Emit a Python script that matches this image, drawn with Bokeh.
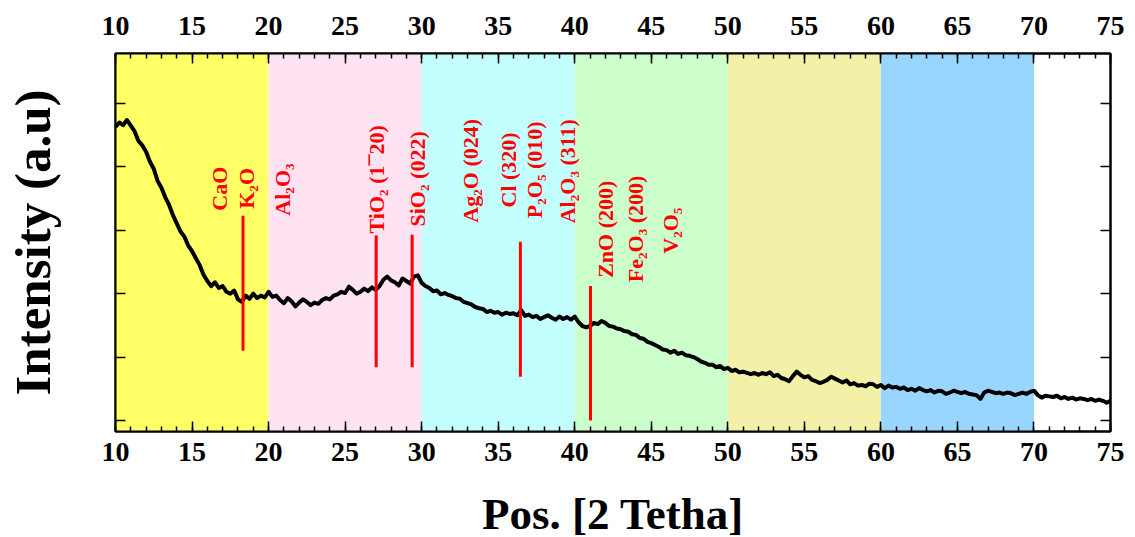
import numpy as np
from bokeh.plotting import figure
from bokeh.models import Range1d, LinearAxis, FixedTicker, BoxAnnotation, CustomJSTickFormatter
from bokeh.embed import file_html
from bokeh.resources import INLINE
from bokeh.core.properties import value

# XRD intensity (a.u.) sampled every 0.25 deg from 10 to 75 (2 theta)
intensity = [
    563, 570, 566, 574, 565, 556, 541, 534, 524, 508, 497, 478, 467, 452, 440, 424,
    411, 398, 390, 376, 367, 356, 345, 330, 320, 312, 318, 309, 312, 303, 300, 305,
    291, 287, 297, 292, 300, 293, 297, 294, 303, 295, 297, 290, 285, 293, 288, 280,
    286, 291, 287, 282, 286, 284, 290, 293, 291, 297, 299, 303, 301, 311, 306, 300,
    303, 308, 304, 310, 306, 312, 322, 327, 321, 318, 313, 324, 320, 316, 327, 329,
    317, 312, 309, 304, 305, 299, 301, 298, 296, 293, 292, 287, 285, 283, 279, 277,
    276, 271, 273, 270, 271, 267, 270, 268, 269, 266, 274, 265, 267, 263, 265, 260,
    263, 266, 262, 259, 264, 260, 263, 259, 264, 255, 249, 247, 249, 254, 252, 257,
    254, 249, 248, 245, 244, 241, 240, 236, 235, 230, 229, 224, 222, 219, 216, 212,
    211, 207, 210, 205, 207, 203, 202, 200, 197, 193, 191, 188, 188, 184, 186, 181,
    183, 178, 180, 176, 177, 175, 173, 175, 172, 175, 173, 176, 170, 172, 167, 165,
    162, 170, 177, 172, 168, 170, 164, 162, 159, 161, 164, 169, 166, 163, 160, 163,
    157, 159, 155, 156, 154, 158, 157, 153, 156, 151, 155, 152, 153, 150, 152, 148,
    150, 147, 151, 148, 146, 148, 144, 147, 146, 142, 144, 147, 145, 143, 145, 142,
    141, 140, 134, 144, 147, 145, 143, 144, 142, 144, 143, 140, 142, 144, 142, 145,
    147, 140, 136, 139, 138, 137, 139, 135, 137, 134, 136, 133, 135, 134, 132, 134,
    131, 133, 131, 128, 131,
]
two_theta = np.linspace(10, 75, len(intensity))

# coloured 2-theta regions
band_left = [10, 20, 30, 40, 50, 60]
band_right = [20, 30, 40, 50, 60, 70]
band_colors = ["#FFFF66", "#FFE3F3", "#C4FFFF", "#CCFFCC", "#F3F0A8", "#99D6FF"]

# red peak markers
marker_pos = [18.33, 27.03, 29.38, 36.45, 41.03]
marker_low = [210, 184, 184, 169, 100]
marker_high = [423, 392, 393, 382, 312]

# phase labels
label_text = ["CaO", "K\u2082O", "Al\u2082O\u2083", "TiO\u2082 (1\u00af20)", "SiO\u2082 (022)",
              "Ag\u2082O (024)", "Cl (320)", "P\u2082O\u2085 (010)", "Al\u2082O\u2083 (311)",
              "ZnO (200)", "Fe\u2082O\u2083 (200)", "V\u2082O\u2085"]
label_x = [16.77, 18.56, 20.91, 27.05, 29.73, 33.18, 35.68, 37.38, 39.53, 42.03, 43.98, 46.28]
label_y = [431, 434, 423, 395, 406, 412, 436, 419, 411, 325, 318, 363]

x_major = list(range(10, 76, 5))
x_minor = list(range(10, 76))
y_major = [100, 200, 300, 400, 500, 600]

x_title = "Pos. [2 Tetha]"
y_title = "Intensity (a.u)"

FONT = "Liberation Serif"

p = figure(frame_width=995, frame_height=378,
           x_range=Range1d(10, 75), y_range=Range1d(82.6, 678.9),
           output_backend="svg", toolbar_location=None,
           min_border_left=115, min_border_right=25, min_border_top=53, min_border_bottom=106,
           background_fill_color="white", border_fill_color="white")
p.grid.visible = False
p.outline_line_color = "black"
p.outline_line_width = 2

for l, r, c in zip(band_left, band_right, band_colors):
    p.add_layout(BoxAnnotation(left=l, right=r, fill_color=c, fill_alpha=1.0,
                               line_color=None, level="underlay"))

p.line(two_theta, intensity, line_color="black", line_width=4, line_join="round")
p.segment(x0=marker_pos, y0=marker_low, x1=marker_pos, y1=marker_high,
          line_color="red", line_width=3)
p.text(x=label_x, y=label_y, text=label_text, angle=np.pi / 2,
       text_color="red", text_font=value(FONT), text_font_style="bold",
       text_font_size="22px", text_align="left", text_baseline="alphabetic")

xt = FixedTicker(ticks=x_major, minor_ticks=x_minor)
yt = FixedTicker(ticks=y_major, minor_ticks=[])
blank = CustomJSTickFormatter(code="return ''")


def style_x(ax):
    ax.ticker = xt
    ax.major_tick_in = 10
    ax.major_tick_out = 0
    ax.minor_tick_in = 5
    ax.minor_tick_out = 0
    ax.axis_line_width = 2
    ax.major_tick_line_width = 1.5
    ax.minor_tick_line_width = 1.5
    ax.major_label_text_font = FONT
    ax.major_label_text_font_style = "bold"
    ax.major_label_text_font_size = "28px"
    ax.major_label_text_color = "black"


def style_y(ax):
    ax.ticker = yt
    ax.formatter = blank
    ax.major_tick_in = 10
    ax.major_tick_out = 0
    ax.minor_tick_in = 0
    ax.minor_tick_out = 0
    ax.axis_line_width = 2
    ax.major_tick_line_width = 1.5
    ax.major_label_standoff = 0


bx = p.xaxis[0]
style_x(bx)
bx.major_label_standoff = 11
bx.axis_label = x_title
bx.axis_label_text_font = FONT
bx.axis_label_text_font_style = "bold"
bx.axis_label_text_font_size = "45px"
bx.axis_label_text_color = "black"
bx.axis_label_standoff = 25

tx = LinearAxis()
style_x(tx)
tx.major_label_standoff = 19
p.add_layout(tx, "above")

ly = p.yaxis[0]
style_y(ly)
ly.axis_label = y_title
ly.axis_label_text_font = FONT
ly.axis_label_text_font_style = "bold"
ly.axis_label_text_font_size = "51px"
ly.axis_label_text_color = "black"
ly.axis_label_standoff = 55

ry = LinearAxis()
style_y(ry)
p.add_layout(ry, "right")

open("out.html", "w").write(file_html(p, INLINE))
